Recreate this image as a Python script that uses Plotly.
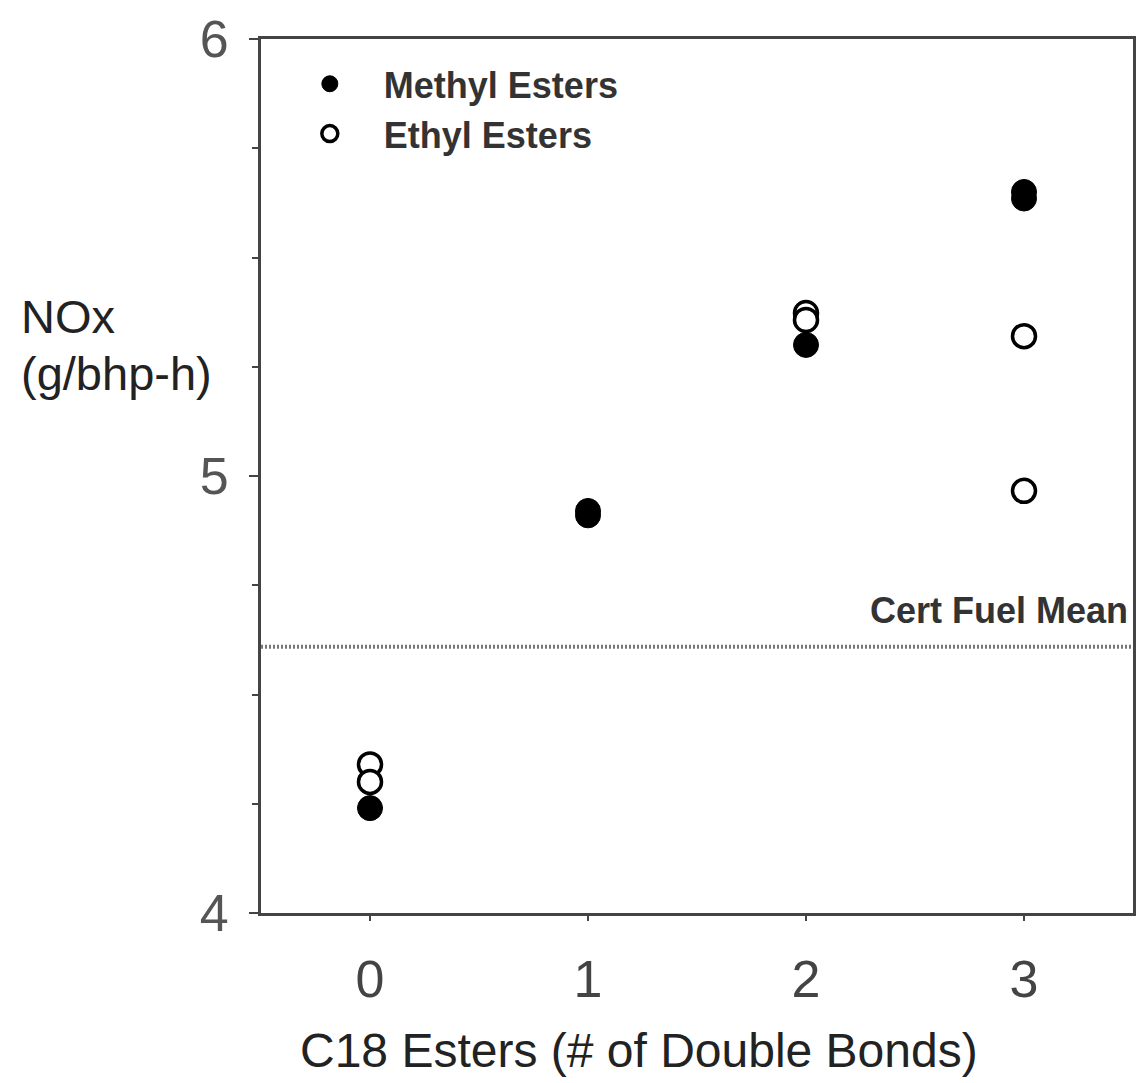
import plotly.graph_objects as go

# Data
methyl_x = [0, 1, 1, 2, 3, 3]
methyl_y = [4.24, 4.91, 4.92, 5.30, 5.635, 5.65]
ethyl_x = [0, 0, 2, 2, 3, 3]
ethyl_y = [4.34, 4.30, 5.373, 5.357, 5.32, 4.966]
cert_fuel_mean = 4.609
x_ticks = [0, 1, 2, 3]
y_ticks = [4, 5, 6]

FONT = "Arial, 'Liberation Sans', sans-serif"

fig = go.Figure()
fig.add_trace(go.Scatter(
    x=methyl_x, y=methyl_y, mode="markers", name="Methyl Esters",
    marker=dict(symbol="circle", size=25, color="#000000",
                line=dict(color="#000000", width=1)),
))
fig.add_trace(go.Scatter(
    x=ethyl_x, y=ethyl_y, mode="markers", name="Ethyl Esters",
    marker=dict(symbol="circle", size=23, color="#ffffff",
                line=dict(color="#000000", width=3.5)),
))

fig.add_shape(type="line", xref="paper", x0=0, x1=1, yref="y",
              y0=cert_fuel_mean, y1=cert_fuel_mean,
              line=dict(color="#777777", width=4, dash="2px,2px"), layer="below")
fig.add_annotation(xref="paper", x=0.996, yref="y", y=cert_fuel_mean,
                   yshift=14, xanchor="right", yanchor="bottom",
                   text="<b>Cert Fuel Mean</b>", showarrow=False,
                   font=dict(family=FONT, size=36, color="#333333"))

# Y-axis title (horizontal, left) - two stacked, non-overlapping lines
fig.add_annotation(xref="paper", x=-0.276, yref="paper", y=0.651,
                   xanchor="left", yanchor="bottom", text="NOx", showarrow=False,
                   borderpad=0,
                   font=dict(family=FONT, size=47, color="#222222"))
fig.add_annotation(xref="paper", x=-0.276, yref="paper", y=0.649,
                   xanchor="left", yanchor="top", text="(g/bhp-h)", showarrow=False,
                   borderpad=0,
                   font=dict(family=FONT, size=47, color="#222222"))
# X-axis title
fig.add_annotation(xref="paper", x=0.433, yref="paper", y=-0.157,
                   xanchor="center", yanchor="middle",
                   text="C18 Esters (# of Double Bonds)", showarrow=False,
                   font=dict(family=FONT, size=48, color="#222222"))

fig.update_layout(
    width=1139, height=1083,
    margin=dict(l=261, r=3, t=39, b=170),
    paper_bgcolor="white", plot_bgcolor="white",
    font=dict(family=FONT, color="#444444"),
    showlegend=True,
    legend=dict(x=0.017, y=0.983, xanchor="left", yanchor="top",
                bgcolor="rgba(0,0,0,0)", itemwidth=98, tracegroupgap=0,
                font=dict(family=FONT, size=36, color="#333333", weight="bold"),
                itemsizing="trace"),
)
fig.update_xaxes(
    range=[-0.5, 3.5], tickvals=x_ticks, ticktext=[str(v) for v in x_ticks],
    showgrid=False, zeroline=False, showline=True, linecolor="#444444",
    linewidth=3, mirror=True, ticks="outside", ticklen=5, tickwidth=2,
    tickcolor="#444444", tickfont=dict(family=FONT, size=52, color="#444444"),
    ticklabelstandoff=14,
)
fig.update_yaxes(
    range=[4, 6], tickvals=y_ticks, ticktext=[str(v) for v in y_ticks],
    showgrid=False, zeroline=False, showline=True, linecolor="#444444",
    linewidth=3, mirror=True, ticks="outside", ticklen=9, tickwidth=2,
    tickcolor="#444444", tickfont=dict(family=FONT, size=52, color="#555555"),
    ticklabelstandoff=10,
    minor=dict(dtick=0.25, ticks="outside", ticklen=6, tickwidth=2, tickcolor="#444444"),
)

fig.write_html("out.html")
